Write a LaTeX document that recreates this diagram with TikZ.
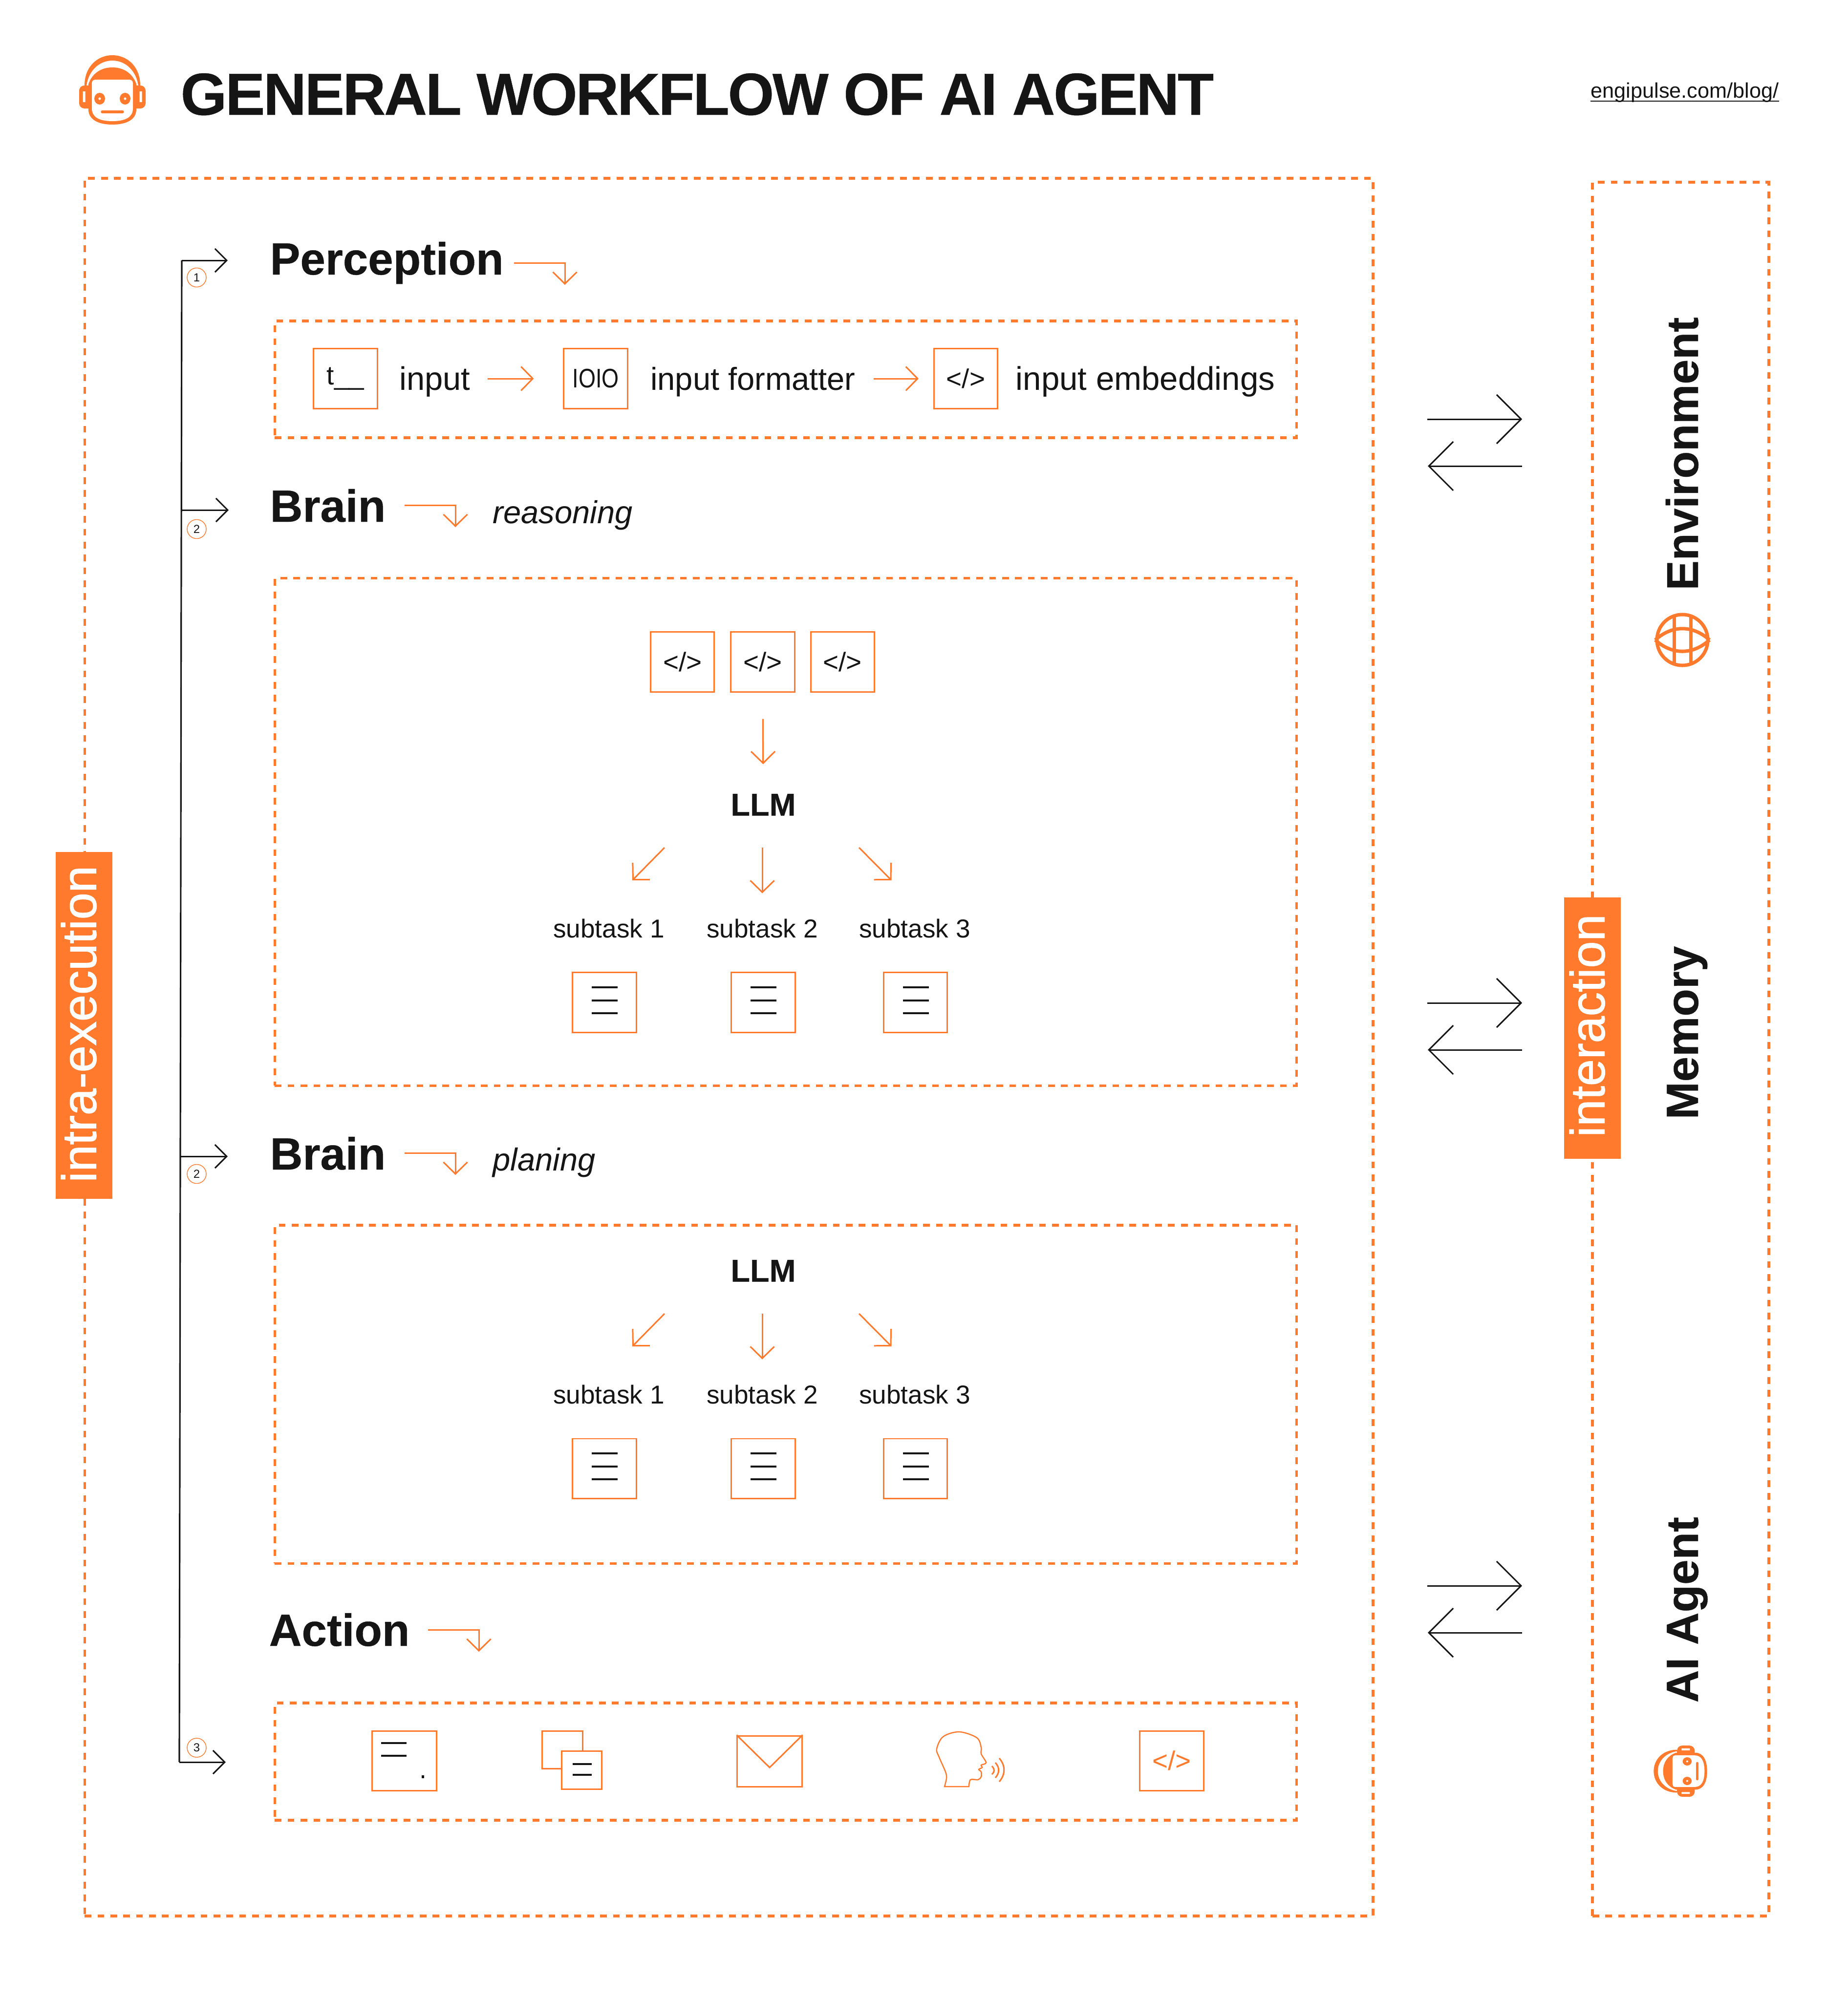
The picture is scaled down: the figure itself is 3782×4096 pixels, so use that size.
\documentclass[tikz,border=0pt]{standalone}
\usepackage{fontspec}
\setmainfont{Liberation Sans}
\newfontfamily\medfont[FakeBold=1.2]{Liberation Sans}
\newfontfamily\headfont[FakeBold=0.4]{Liberation Sans Bold}
\usepackage{xcolor}
\usetikzlibrary{arrows.meta,calc}
\definecolor{enorange}{HTML}{FF7A2C}
\definecolor{enblack}{HTML}{151515}
\tikzstyle{dashbox} = [rectangle, draw=enorange, line width=1.55pt, dash pattern=on 3.9pt off 3.6pt, %
sharp corners, inner sep=0pt]
\tikzstyle{iconbox} = [rectangle, draw=enorange, line width=.85pt, minimum width=1.3cm, minimum height=1.22cm, %
inner sep=0pt, text=enblack, font=\fontsize{15.6}{18}\selectfont]
\tikzstyle{heading} = [anchor=base west, inner sep=0pt, text=enblack, font=\fontsize{26.3}{30}\selectfont\headfont]
\tikzstyle{rowtext} = [inner sep=0pt, text=enblack, text height=.66cm, text depth=.2cm, font=\fontsize{18.5}{22}\selectfont]
\tikzstyle{notetext} = [anchor=base west, inner sep=0pt, text=enblack, font=\fontsize{18.5}{22}\selectfont\itshape]
\tikzstyle{tasktext} = [anchor=base, inner sep=0pt, text=enblack, font=\fontsize{15.1}{18}\selectfont]
\tikzstyle{llmtext} = [anchor=base, inner sep=0pt, text=enblack, font=\fontsize{18.4}{22}\selectfont\headfont]
\tikzstyle{sidelabel} = [rectangle, fill=enorange, inner sep=0pt, rotate=90, minimum height=1.16cm, text=white, %
text height=.7cm, text depth=.21cm, font=\fontsize{28.1}{32}\selectfont\medfont]
\tikzstyle{numcircle} = [circle, draw=enorange, line width=.4pt, minimum size=.39cm, inner sep=0pt, text=enblack, %
font=\fontsize{6.8}{8}\selectfont]
\tikzstyle{oarrow} = [draw, enorange, line width=.85pt, -{Straight Barb[length=2.4mm,width=4.9mm]}]
\tikzstyle{barrow} = [draw, enblack, line width=.85pt, -{Straight Barb[length=2.4mm,width=4.8mm]}]
\tikzstyle{bigarrow} = [draw, enblack, line width=.85pt, -{Straight Barb[length=5mm,width=10mm]}]
\tikzstyle{blackline} = [draw, enblack, line width=.9pt]
\tikzstyle{orangeline} = [draw, enorange, line width=.85pt]
\tikzset{robot/.pic={
    % headband
    \fill[enorange] (-57,-9) .. controls (-57,-48) and (-30,-71) .. (0,-71) .. controls (30,-71) and (57,-48) .. (57,-9)
      -- (53,-9) .. controls (49,-38) and (28,-60) .. (0,-60) .. controls (-28,-60) and (-49,-38) .. (-53,-9) -- cycle;
    % ear cups
    \fill[enorange, rounded corners=3] (-68,-9) rectangle (68,38);
    \fill[white] (-60.5,3) rectangle (-55.5,25) (55.5,3) rectangle (60.5,25);
    % head and face
    \fill[enorange] (-49,40) .. controls (-49,60) and (-30,71) .. (0,71) .. controls (30,71) and (49,60) .. (49,40)
      -- (49,-12) .. controls (42,-32) and (25,-46) .. (0,-46) .. controls (-25,-46) and (-42,-32) .. (-49,-12) -- cycle;
    \fill[white] (-42,38) .. controls (-42,55) and (-28,64) .. (0,64) .. controls (28,64) and (42,55) .. (42,38)
      -- (42,-14) .. controls (42,-19) and (38,-21) .. (34,-21) -- (-34,-21) .. controls (-38,-21) and (-42,-19) .. (-42,-14) -- cycle;
    \fill[enorange] (-26,18) ellipse [x radius=11, y radius=12] (26,18) ellipse [x radius=11, y radius=12];
    \fill[white] (-26,18) circle [radius=2.6] (26,18) circle [radius=2.6];
    \draw[enorange, line width=1.5pt, line cap=round] (-21,45) -- (21,45);
}}

\begin{document}
\begin{tikzpicture}[x=0.01cm, y=-0.01cm]
    \useasboundingbox (0,0) rectangle (3782,4096);
    % header
    \pic at (230,184) {robot};
    \node[anchor=base west, inner sep=0pt, text=enblack, font=\fontsize{34.6}{40}\selectfont\headfont\addfontfeature{LetterSpace=-2.7}] (title) at (369,235) {GENERAL WORKFLOW OF AI AGENT};
    \node[anchor=base east, inner sep=0pt, text=enblack, font=\fontsize{12.3}{15}\selectfont] (blog) at (3641,200) {engipulse.com/blog/};
    \path[blackline, line width=.5pt] ($(blog.base west)+(0,7)$) -- ($(blog.base east)+(0,7)$);
    % dashed frames
    \node[dashbox, minimum width=26.35cm, minimum height=35.55cm] (workflow) at (1491.5,2143.5) {};
    \node[dashbox, minimum width=3.61cm, minimum height=35.47cm] (world) at (3439.5,2147.5) {};
    \node[dashbox, minimum width=20.9cm, minimum height=2.39cm] (perbox) at (1608,776.5) {};
    \node[dashbox, minimum width=20.9cm, minimum height=10.38cm] (reabox) at (1608,1703) {};
    \node[dashbox, minimum width=20.9cm, minimum height=6.92cm] (plabox) at (1608,2854) {};
    \node[dashbox, minimum width=20.9cm, minimum height=2.4cm] (actbox) at (1608,3606) {};
    \node[sidelabel, minimum width=7.09cm] (intra) at (172,2098.8) {\hspace*{.05cm}intra-execution};
    \node[sidelabel, minimum width=5.35cm] (inter) at (3259,2104.5) {\hspace*{.1cm}interaction};
    % side column
    \node[heading, rotate=90, font=\fontsize{26}{30}\selectfont\headfont] (env) at (3475,1209) {Environment};
    \node[heading, rotate=90] (mem) at (3475,2292) {Memory};
    \node[heading, rotate=90] (agent) at (3475,3486) {AI Agent};
    \node[circle, draw=enorange, line width=2pt, minimum size=1.04cm, inner sep=0pt] (globe) at (3443,1310) {};
    \path[orangeline, line width=2pt] (3426,1260) -- (3426,1360) (3460,1260) -- (3460,1360);
    \path[orangeline, line width=2pt] (globe.west) .. controls (3422,1279) and (3464,1279) .. (globe.east);
    \path[orangeline, line width=2pt] (globe.west) .. controls (3422,1341) and (3464,1341) .. (globe.east);
    \pic[rotate=90, scale=.77] at (3439,3625.5) {robot};
    % headings
    \node[heading] (percep) at (552,562) {Perception};
    \node[heading] (reason) at (552,1068) {Brain};
    \node[notetext] (reanote) at (1008,1071.6) {reasoning};
    \node[heading] (plan) at (552,2394) {Brain};
    \node[notetext] (planote) at (1008,2396) {planing};
    \node[heading] (action) at (550,3369) {Action};
    % perception row
    \node[iconbox] (text) at (707,775) {t\_\_};
    \node[rowtext, font=\fontsize{19}{22}\selectfont] (input) at (890,775) {input};
    \node[iconbox] (bits) at (1219,775) {\scalebox{.82}[1]{IOIO}};
    \node[rowtext] (format) at (1541,775) {input formatter};
    \node[iconbox] (embed) at (1976.5,775) {</>};
    \node[rowtext, font=\fontsize{19.1}{22}\selectfont] (vectors) at (2344,775) {input embeddings};
    % reasoning inputs
    \node[iconbox] (codeb) at (1561,1355) {</>};
    \node[iconbox, left of=codeb, node distance=1.64cm] (codea) {</>};
    \node[iconbox, right of=codeb, node distance=1.63cm] (codec) {</>};
    % llm blocks
    \foreach \g/\dy in {a/0,b/954} {
        \node[llmtext] (llm\g) at (1562,1669.5+\dy) {LLM};
        \node[tasktext] (taskl\g) at (1246,1919+\dy) {subtask 1};
        \node[tasktext] (taskm\g) at (1560,1919+\dy) {subtask 2};
        \node[tasktext] (taskr\g) at (1872,1919+\dy) {subtask 3};
        \node[iconbox] (docl\g) at (1237,2052+\dy) {};
        \node[iconbox] (docm\g) at (1562,2052+\dy) {};
        \node[iconbox] (docr\g) at (1873.5,2052+\dy) {};
        \foreach \d in {docl\g,docm\g,docr\g} {
            \foreach \ly in {-31,-4,22}
                \path[blackline] ($(\d)+(-26,\ly)$) -- ++(53,0);
        }
        \coordinate (fl\g) at (1360,1735+\dy);
        \coordinate (tl\g) at (1294,1802+\dy);
        \coordinate (fm\g) at (1560,1735+\dy);
        \coordinate (tm\g) at (1560,1828.5+\dy);
        \coordinate (fr\g) at (1758,1735+\dy);
        \coordinate (tr\g) at (1824.5,1802+\dy);
        \path[oarrow] (fl\g) -- (tl\g);
        \path[oarrow] (fm\g) -- (tm\g);
        \path[oarrow] (fr\g) -- (tr\g);
    }
    % action icons
    \node[iconbox, minimum width=1.32cm] (terminal) at (827.5,3604) {};
    \path[blackline, line width=1pt] ($(terminal)+(-48,-36)$) -- ++(52,0);
    \path[blackline, line width=1pt] ($(terminal)+(-48,-10)$) -- ++(52,0);
    \fill[enblack] ($(terminal)+(35,30)$) rectangle ++(5,6);
    \node[iconbox, minimum width=.82cm, minimum height=.77cm] (pageb) at (1151,3581.5) {};
    \node[iconbox, minimum width=.82cm, minimum height=.78cm, fill=white] (pagef) at (1190.5,3623) {};
    \path[blackline] ($(pagef)+(-19,-12)$) -- ++(39,0);
    \path[blackline] ($(pagef)+(-19,10)$) -- ++(39,0);
    \node[iconbox, minimum width=1.32cm, minimum height=1.04cm] (mail) at (1575,3605) {};
    \coordinate (mailtip) at (1575,3618);
    \path[orangeline] (mail.north west) -- (mailtip) -- (mail.north east);
    \path[orangeline, line width=.7pt] plot[smooth, tension=.55] coordinates {(1983,3657) (1986,3643) (2001.5,3643) (2008,3637) (2008,3627) (2003,3622) (2010,3618) (2008,3613) (2018,3608) (2008,3590) (2008,3577) (1999,3557) (1963,3545) (1930,3555) (1917,3580) (1922,3597) (1935,3627) (1937,3640) (1933,3657)} -- cycle;
    \path[orangeline] (2030,3615) .. controls (2036,3622) and (2036,3626) .. (2030,3632);
    \path[orangeline] (2037,3608) .. controls (2046,3618) and (2046,3629) .. (2037,3639);
    \path[orangeline] (2045,3599) .. controls (2058,3614) and (2058,3632) .. (2045,3647);
    \node[iconbox, text=enorange] (codeact) at (2398,3604) {</>};
    % step numbers
    \node[numcircle] (stepa) at (402.5,568) {1};
    \node[numcircle] (stepb) at (402.5,1083) {2};
    \node[numcircle] (stepc) at (402.5,2403) {2};
    \node[numcircle] (stepd) at (402.5,3577.5) {3};
    % trunk
    \coordinate (trunka) at (372,533);
    \coordinate (trunkb) at (371,1044);
    \coordinate (trunkc) at (369,2367);
    \coordinate (trunkd) at (367,3607);
    \coordinate (tipa) at (466,533);
    \coordinate (tipb) at (468,1044);
    \coordinate (tipc) at (466,2367);
    \coordinate (tipd) at (462,3607);
    \path[blackline] (trunka) -- (trunkd);
    \path[barrow] (trunka) -- (tipa);
    \path[barrow] (trunkb) -- (tipb);
    \path[barrow] (trunkc) -- (tipc);
    \path[barrow] (trunkd) -- (tipd);
    % draw arrows
    \coordinate (perfrom) at (1052,538);
    \coordinate (perto) at (1156,583);
    \coordinate (reafrom) at (828,1034);
    \coordinate (reato) at (932,1079);
    \coordinate (plafrom) at (828,2360);
    \coordinate (plato) at (932,2405);
    \coordinate (actfrom) at (876,3336);
    \coordinate (actto) at (980,3381);
    \path[oarrow] (perfrom) -| (perto);
    \path[oarrow] (reafrom) -| (reato);
    \path[oarrow] (plafrom) -| (plato);
    \path[oarrow] (actfrom) -| (actto);
    \path[oarrow, shorten <=.35cm, shorten >=.6cm] (input.east) -- (bits.west);
    \path[oarrow, shorten <=.37cm, shorten >=.3cm] (format.east) -- (embed.west);
    \path[oarrow, shorten <=.54cm, shorten >=.6cm] (codeb.south) -- (llma.north);
    \foreach \rowy in {858,2053,3246} {
        \coordinate (outfrom) at (2921,\rowy);
        \coordinate (outto) at (3115,\rowy);
        \coordinate (backfrom) at (3115,\rowy+96);
        \coordinate (backto) at (2922,\rowy+96);
        \path[bigarrow] (outfrom) -- (outto);
        \path[bigarrow] (backfrom) -- (backto);
    }
\end{tikzpicture}
\end{document}
